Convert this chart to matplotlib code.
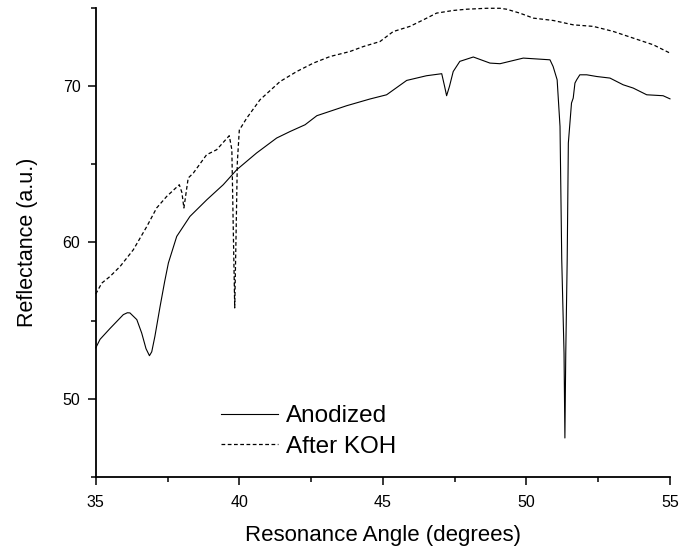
import matplotlib
matplotlib.use("Agg")
from matplotlib import pyplot as plt
from matplotlib.ticker import MultipleLocator

plt.rcParams["font.family"] = ["Liberation Sans", "DejaVu Sans"]

# Anodized sample
anod_x = [35.0, 35.15, 35.5, 35.96, 36.1, 36.19, 36.43, 36.6, 36.75, 36.87,
          36.95, 37.06, 37.24, 37.4, 37.53, 37.82, 38.05, 38.28, 38.87, 39.44,
          39.91, 40.6, 41.3, 41.77, 42.29, 42.7, 43.74, 44.55, 45.13, 45.83,
          46.52, 47.05, 47.15, 47.22, 47.32, 47.45, 47.68, 48.15, 48.73, 49.08,
          49.89, 50.82, 50.93, 51.07, 51.17, 51.23, 51.31, 51.34, 51.37, 51.42,
          51.46, 51.57, 51.63, 51.69, 51.75, 51.86, 52.1, 52.45, 52.91, 53.37,
          53.72, 54.19, 54.76, 55.0]
anod_y = [53.25, 53.8, 54.5, 55.38, 55.5, 55.49, 55.06, 54.2, 53.2, 52.75,
          53.0, 53.99, 55.9, 57.5, 58.69, 60.39, 61.03, 61.67, 62.74, 63.7,
          64.66, 65.73, 66.69, 67.11, 67.54, 68.12, 68.76, 69.19, 69.46, 70.38,
          70.68, 70.81, 70.0, 69.4, 70.0, 70.95, 71.6, 71.88, 71.49, 71.45,
          71.81, 71.7, 71.27, 70.42, 67.43, 58.9, 52.9, 47.48, 52.9, 58.9,
          66.37, 68.93, 69.25, 70.21, 70.42, 70.74, 70.74, 70.63, 70.53, 70.1,
          69.89, 69.46, 69.4, 69.2]

# after KOH etch
koh_x = [35.0, 35.21, 35.5, 35.85, 36.31, 36.78, 37.12, 37.47, 37.91, 38.0,
         38.07, 38.22, 38.4, 38.86, 39.21, 39.65, 39.74, 39.79, 39.84, 39.89,
         39.93, 40.0, 40.26, 40.72, 41.42, 42.0, 42.58, 43.16, 43.85, 44.32,
         44.9, 45.36, 45.94, 46.41, 46.87, 47.45, 47.92, 48.61, 49.08, 49.31,
         49.77, 50.24, 50.93, 51.63, 52.33, 53.02, 53.72, 54.42, 55.0]
koh_y = [56.7, 57.4, 57.83, 58.47, 59.54, 61.03, 62.21, 62.95, 63.7, 63.2,
         62.21, 64.13, 64.45, 65.62, 65.94, 66.84, 65.94, 60.82, 55.81, 60.82,
         65.1, 67.2, 67.97, 69.14, 70.31, 70.95, 71.49, 71.91, 72.23, 72.55,
         72.87, 73.51, 73.84, 74.26, 74.69, 74.86, 74.94, 75.0, 75.0, 74.94,
         74.69, 74.37, 74.22, 73.94, 73.84, 73.52, 73.09, 72.66, 72.13]

fig = plt.figure(figsize=(6.84, 5.52), dpi=100)
ax = fig.add_axes([0.14, 0.1364, 0.8395, 0.8486])

ax.plot(anod_x, anod_y, color="black", lw=0.8, label="Anodized", clip_on=False)
ax.plot(koh_x, koh_y, color="black", lw=0.9, linestyle=(0, (3, 2)),
        label="After KOH", clip_on=False)

ax.set_xlim(35, 55)
ax.set_ylim(45, 75)
ax.xaxis.set_major_locator(MultipleLocator(5))
ax.xaxis.set_minor_locator(MultipleLocator(2.5))
ax.yaxis.set_major_locator(MultipleLocator(10))
ax.yaxis.set_minor_locator(MultipleLocator(5))
ax.spines["top"].set_visible(False)
ax.spines["right"].set_visible(False)
for s in ("left", "bottom"):
    ax.spines[s].set_linewidth(1.3)
ax.tick_params(which="major", direction="out", length=6, width=1.1,
               labelsize=11.5, pad=5)
ax.tick_params(axis="x", which="major", pad=7)
ax.tick_params(which="minor", direction="out", length=3.3, width=1.1)

ax.set_xlabel("Resonance Angle (degrees)", fontsize=16, labelpad=11)
ax.set_ylabel("Reflectance (a.u.)", fontsize=15.5, labelpad=18)

ax.legend(loc="lower left", bbox_to_anchor=(0.218, 0.04), frameon=False,
          fontsize=17.5, handlelength=2.35, handletextpad=0.33,
          labelspacing=0.36, borderpad=0, borderaxespad=0)

fig.savefig("out.png", dpi=100)
